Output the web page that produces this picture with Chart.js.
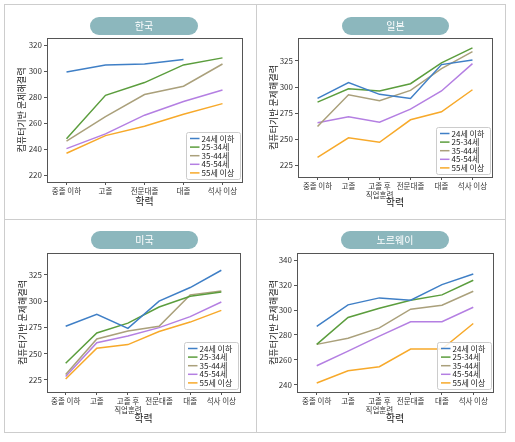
<!DOCTYPE html>
<html>
<head>
<meta charset="utf-8">
<script src="https://cdn.jsdelivr.net/npm/chart.js@4.4.1/dist/chart.umd.min.js"></script>
<style>
    body { margin: 0; background: #fff; width: 515px; height: 442px; position: relative; overflow: hidden; font-family: "Noto Sans CJK KR", sans-serif; }
    canvas { position: absolute; }
    .line { position: absolute; background: #cdcdcd; z-index: 2; }
    .pill { position: absolute; height: 18px; line-height: 18px; border-radius: 9px; background: #8cb7bd; color: #fff; font-size: 10px; text-align: center; z-index: 3; }
</style>
</head>
<body>
<div class="line" style="left:4px;top:4px;width:502px;height:1px"></div>
<div class="line" style="left:4px;top:432px;width:502px;height:1px"></div>
<div class="line" style="left:4px;top:219px;width:502px;height:1px"></div>
<div class="line" style="left:4px;top:4px;width:1px;height:429px"></div>
<div class="line" style="left:256px;top:4px;width:1px;height:429px"></div>
<div class="line" style="left:505px;top:4px;width:1px;height:429px"></div>

<div class="pill" style="left:90px;top:17px;width:108px">한국</div>
<div class="pill" style="left:342px;top:17px;width:107px">일본</div>
<div class="pill" style="left:91px;top:231px;width:107px">미국</div>
<div class="pill" style="left:341px;top:231px;width:108px">노르웨이</div>

<canvas id="koreaChart" width="252" height="215" style="left:4px;top:4px"></canvas>
<canvas id="japanChart" width="249" height="215" style="left:256px;top:4px"></canvas>
<canvas id="usChart" width="252" height="213" style="left:4px;top:219px"></canvas>
<canvas id="norwayChart" width="249" height="213" style="left:256px;top:219px"></canvas>

<script>
// ---- données ----
const ageGroups = ['24세 이하', '25-34세', '35-44세', '45-54세', '55세 이상'];
const ageColors = ['#3f7fc6', '#5b9d3d', '#aaa07b', '#b47fe2', '#f7a92a'];

const eduKorea = ['중졸 이하', '고졸', '전문대졸', '대졸', '석사 이상'];
const eduOthers = ['중졸 이하', '고졸', ['고졸 후', '직업훈련'], '전문대졸', '대졸', '석사 이상'];

const korea24 = [299.5, 304.9, 305.6, 309, null];
const korea2534 = [248, 281.5, 291.3, 304.9, 310.3];
const korea3544 = [246.2, 265.1, 282.1, 288.5, 305.6];
const korea4554 = [240.5, 251.8, 266.2, 276.7, 285.6];
const korea55 = [236.9, 250.5, 257.7, 266.9, 275.1];

const japan24 = [289.1, 304.2, 293, 289.1, 321.5, 326];
const japan2534 = [285.6, 298.4, 296.2, 303.2, 323.1, 337.5];
const japan3544 = [262.2, 292.6, 286.9, 296.8, 317.6, 334];
const japan4554 = [265.7, 271.5, 266.3, 278.8, 296.2, 322.4];
const japan55 = [232.7, 251.3, 247.1, 268.6, 276.3, 297.4];

const us24 = [276, 287.4, 274, 300, 313, 329.5];
const us2534 = [240.6, 269.6, 279, 294.4, 304.6, 308.8];
const us3544 = [230, 263.9, 271.5, 276, 306, 309.7];
const us4554 = [228, 260.3, 266.7, 274.7, 285.2, 299.2];
const us55 = [225.6, 255, 258.5, 271, 280, 291.2];

const norway24 = [286.8, 304.2, 309.8, 307.9, 320.5, 329];
const norway2534 = [272.4, 294, 301.5, 307.9, 312.2, 324];
const norway3544 = [272.4, 277.4, 285.7, 300.7, 303.9, 315.1];
const norway4554 = [255.2, 267, 279, 290.6, 290.6, 302.3];
const norway55 = [241.3, 251.2, 254.4, 268.6, 268.6, 289.2];

const koreaTicks = [220, 240, 260, 280, 300, 320];
const japanTicks = [225, 250, 275, 300, 325];
const usTicks = [225, 250, 275, 300, 325];
const norwayTicks = [240, 260, 280, 300, 320, 340];

const FONT = '"Noto Sans CJK KR", "DejaVu Sans", sans-serif';

// Cadre complet autour de la zone du graphique
const plotFrame = {
    id: 'plotFrame',
    afterDatasetsDraw(chart) {
        const { ctx, chartArea } = chart;
        ctx.save();
        ctx.strokeStyle = '#555';
        ctx.lineWidth = 1;
        ctx.strokeRect(Math.round(chartArea.left) + 0.5, Math.round(chartArea.top) + 0.5,
            Math.round(chartArea.width), Math.round(chartArea.height));
        ctx.restore();
    }
};

// Légende dessinée dans le coin en bas à droite
const insideLegend = {
    id: 'insideLegend',
    afterDraw(chart) {
        const { ctx, chartArea } = chart;
        const w = 54, h = 47;
        const x = Math.round(chartArea.right - w - 2) + 0.5;
        const y = Math.round(chartArea.bottom - h - 3) + 0.5;
        ctx.save();
        ctx.fillStyle = 'rgba(255,255,255,0.85)';
        ctx.strokeStyle = '#cccccc';
        ctx.lineWidth = 1;
        ctx.beginPath();
        ctx.roundRect(x, y, w, h, 2);
        ctx.fill();
        ctx.stroke();
        ctx.font = '8px ' + FONT;
        ctx.textBaseline = 'middle';
        chart.data.datasets.forEach((ds, i) => {
            const ry = y + 6 + i * 8.6;
            ctx.strokeStyle = ds.borderColor;
            ctx.lineWidth = 1.5;
            ctx.beginPath();
            ctx.moveTo(x + 3.5, ry);
            ctx.lineTo(x + 13, ry);
            ctx.stroke();
            ctx.fillStyle = '#222';
            ctx.fillText(ds.label, x + 15, ry);
        });
        ctx.restore();
    }
};

function creerGraphique(id, labels, series, yTicks, yMin, yMax, xMargin, box) {
    new Chart(document.getElementById(id), {
        type: 'line',
        data: {
            datasets: series.map((values, i) => ({
                label: ageGroups[i],
                data: values.map((v, j) => ({ x: j, y: v })),
                borderColor: ageColors[i],
                backgroundColor: ageColors[i],
                borderWidth: 1.5,
                pointRadius: 0,
                tension: 0,
                spanGaps: false
            }))
        },
        options: {
            responsive: false,
            animation: false,
            layout: { padding: { top: box.top, right: box.right, left: 0, bottom: 0 } },
            plugins: { legend: { display: false }, tooltip: { enabled: false } },
            scales: {
                x: {
                    type: 'linear',
                    min: -xMargin,
                    max: labels.length - 1 + xMargin,
                    afterBuildTicks: scale => { scale.ticks = labels.map((_, i) => ({ value: i })); },
                    afterFit: scale => { scale.height = box.xHeight; },
                    grid: { drawOnChartArea: false, tickLength: 3, color: '#555' },
                    border: { display: false },
                    ticks: {
                        autoSkip: false, maxRotation: 0, padding: 1.5,
                        color: '#333', font: { size: 7.5, family: FONT, lineHeight: 1.2 },
                        callback: value => labels[value]
                    },
                    title: {
                        display: true, text: '학력', color: '#222',
                        font: { size: 10, family: FONT },
                        padding: { top: 0, bottom: box.xTitlePad }
                    }
                },
                y: {
                    min: yMin,
                    max: yMax,
                    afterBuildTicks: scale => { scale.ticks = yTicks.map(v => ({ value: v })); },
                    afterFit: scale => { scale.width = box.left; },
                    grid: { drawOnChartArea: false, tickLength: 3, color: '#555' },
                    border: { display: false },
                    ticks: { padding: 2, color: '#333', font: { size: 8, family: FONT } },
                    title: {
                        display: true, text: '컴퓨터기반 문제해결력', color: '#222',
                        font: { size: 9, family: FONT },
                        padding: { top: box.yTitlePad, bottom: 0 }
                    }
                }
            }
        },
        plugins: [plotFrame, insideLegend]
    });
}

creerGraphique('koreaChart', eduKorea, [korea24, korea2534, korea3544, korea4554, korea55],
    koreaTicks, 214.8, 325.6, 0.5,
    { left: 43, top: 34, right: 14, xHeight: 37, xTitlePad: 12, yTitlePad: 12 });

creerGraphique('japanChart', eduOthers, [japan24, japan2534, japan3544, japan4554, japan55],
    japanTicks, 213.8, 347, 0.63,
    { left: 42, top: 34, right: 13, xHeight: 42, xTitlePad: 10.5, yTitlePad: 12.5 });

creerGraphique('usChart', eduOthers, [us24, us2534, us3544, us4554, us55],
    usTicks, 213.2, 346, 0.6,
    { left: 43, top: 34, right: 16, xHeight: 40, xTitlePad: 7.5, yTitlePad: 13 });

creerGraphique('norwayChart', eduOthers, [norway24, norway2534, norway3544, norway4554, norway55],
    norwayTicks, 234.1, 345.9, 0.63,
    { left: 41, top: 34, right: 12, xHeight: 40, xTitlePad: 7.5, yTitlePad: 12 });
</script>
</body>
</html>
